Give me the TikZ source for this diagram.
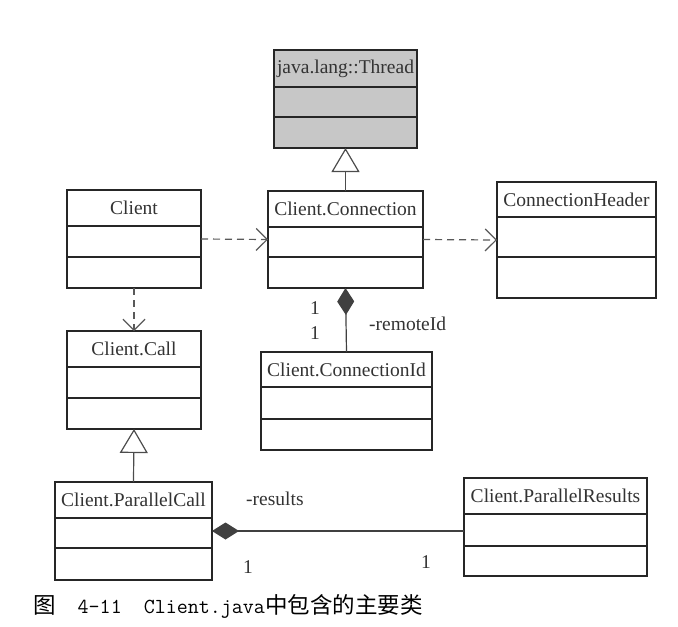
\documentclass[tikz,border=0pt]{standalone}
\usepackage{fontspec}
\setmainfont{Liberation Serif}
\newfontfamily\cjkfont{Noto Sans CJK SC}
\newcommand{\classfont}{\fontsize{19.5}{22}\selectfont}
\usetikzlibrary{arrows.meta}

\begin{document}
\begin{tikzpicture}[x=1pt,y=-1pt,
		classbox/.style={draw=black!85,line width=1.4pt,inner sep=0pt,outer sep=0pt},
		depend/.style={black!65,line width=1.2pt,dash pattern=on 7pt off 5pt,
			-{Straight Barb[length=11pt,width=22pt,line width=1.2pt]}},
		inherit/.style={black!70,line width=1.2pt,
			-{Triangle[open,length=24pt,width=28pt,line width=1.2pt]}},
		compose/.style={black!75,line width=1.2pt,{Diamond[length=27pt,width=17pt]}-},
		mult/.style={font=\classfont,text=black!80,inner sep=0pt}]
		% fix the page size
		\useasboundingbox (0,0) rectangle (678,627);

		% draw the classes: name/left/top/right/bottom/first line/second line/fill/title
		\foreach \name/\x/\y/\xx/\yy/\da/\db/\col/\txt in {
			thread/274/50/417/148/87/117/black!22/{java.lang::Thread},
			client/67/190/201/288/226/257/white/{Client},
			conn/268/191/423/288/227/257/white/{Client.Connection},
			header/497/182/656/298/217/257/white/{ConnectionHeader},
			call/67/331/201/429/367/398/white/{Client.Call},
			connid/261/352/432/450/387/419/white/{Client.ConnectionId},
			pcall/55/482/212/580/518/548/white/{Client.ParallelCall},
		presults/464/478/647/576/514/546/white/{Client.ParallelResults}} {
			\node[classbox,fill=\col,minimum width={\xx-\x},minimum height={\yy-\y}]
				(\name) at ({(\x+\xx)/2},{(\y+\yy)/2}) {};
			\draw[line width=1.4pt,black!85] (\x,\da) -- (\xx,\da) (\x,\db) -- (\xx,\db);
			\node[font=\classfont,text=black!80] at ({(\x+\xx)/2},{(\y+\da)/2}) {\txt};
		}

		% inheritance
		\draw[inherit] (conn.north) -- (thread.south);
		\draw[inherit] (pcall.north) -- (call.south);

		% dependencies
		\draw[depend] (client.east) -- (conn.west);
		\draw[depend] (conn.east) -- (header.west);
		\draw[depend] (client.south) -- (call.north);

		% compositions
		\draw[compose] (conn.south) -- (connid.north);
		\draw[compose] (pcall.east) -- (pcall.east -| presults.west);

		% multiplicities and roles
		\node[mult] (m1) at (315,308) {1};
		\node[mult] (m2) at (315,333) {1};
		\node[mult,anchor=west] (remote) at (369,324) {-remoteId};
		\node[mult,anchor=west] (results) at (246,499) {-results};
		\node[mult] (m3) at (248,567) {1};
		\node[mult] (m4) at (426,562) {1};

		% the caption
		\node[anchor=west,inner sep=0pt] (caption) at (33,606)
			{\fontsize{22.5}{24}\selectfont\cjkfont 图\hspace{22pt}\fontsize{21.4}{24}\selectfont\ttfamily
			4-11\hspace{22pt}Client.java\fontsize{22.5}{24}\selectfont\cjkfont 中包含的主要类};
	\end{tikzpicture}
\end{document}
